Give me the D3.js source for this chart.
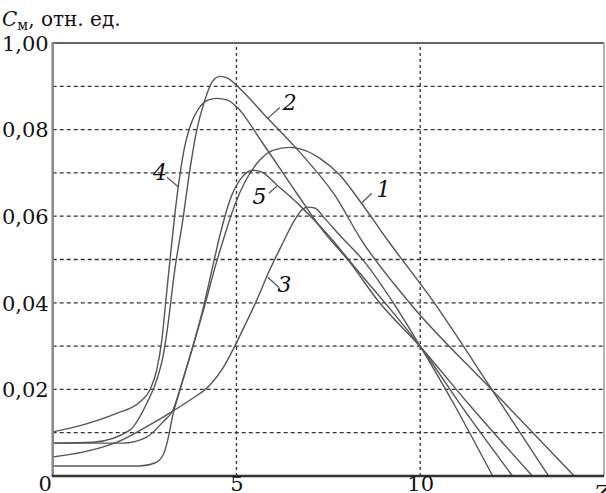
<!DOCTYPE html>
<html lang="ru">
  <head>
    <meta charset="utf-8">
    <title>Cм</title>
    <script src="https://d3js.org/d3.v7.min.js"></script>
    <style type="text/css">
        body { margin: 0; background: #fff; }
        svg text { font-family: "DejaVu Serif", "Liberation Serif", serif; fill: #111; }
        .grid line { stroke: #333; stroke-width: 1.3; stroke-dasharray: 4,3; }
        .curve { fill: none; stroke: #555; stroke-width: 1.4; }
        .leader { stroke: #555; stroke-width: 1.2; }
    </style>
  </head>
  <body>
    <div class="chart" id="chart"></div>
    <script>

        // values: x (time), y (Cm)
        var curve1 = [[0,0.0023],[2.37,0.0023],[2.78,0.0030],[3.0,0.0048],[3.13,0.0083],[3.27,0.0141],[3.46,0.0198],[3.81,0.0298],[4.14,0.0395],[4.41,0.0480],[4.68,0.0556],[4.95,0.0625],[5.23,0.0679],[5.63,0.0729],[5.99,0.0752],[6.45,0.0759],[6.86,0.0752],[7.26,0.0734],[7.81,0.0695],[8.40,0.0630],[9.11,0.0545],[10.33,0.0406],[11.96,0.0198],[13.49,0]];
        var curve2 = [[0,0.0076],[1.09,0.0078],[2.10,0.0106],[2.56,0.0168],[2.83,0.0222],[3.0,0.0275],[3.12,0.0340],[3.32,0.0475],[3.54,0.0591],[3.73,0.0706],[3.92,0.0799],[4.14,0.0868],[4.33,0.0909],[4.55,0.0923],[4.76,0.0919],[5.09,0.0895],[5.85,0.0826],[6.72,0.0748],[7.67,0.0649],[8.40,0.0545],[9.65,0.0406],[11.96,0.0198],[14.19,0]];
        var curve3 = [[0,0.0044],[0.82,0.0055],[1.75,0.0078],[2.64,0.0118],[3.27,0.0150],[3.73,0.0175],[4.28,0.0210],[4.63,0.0249],[4.90,0.0291],[5.23,0.0348],[5.55,0.0406],[5.90,0.0475],[6.26,0.0538],[6.58,0.0591],[6.77,0.0614],[6.94,0.0621],[7.13,0.0619],[7.40,0.0595],[7.81,0.0556],[8.49,0.0494],[9.22,0.0406],[10.01,0.0298],[10.93,0.0164],[11.97,0]];
        var curve4 = [[0,0.0102],[0.82,0.0118],[1.75,0.0145],[2.37,0.0171],[2.64,0.0198],[2.83,0.0245],[2.97,0.0314],[3.08,0.0406],[3.19,0.0498],[3.32,0.0602],[3.46,0.0695],[3.60,0.0764],[3.73,0.0805],[4.0,0.0852],[4.22,0.0868],[4.46,0.0872],[4.76,0.0868],[5.01,0.0852],[5.71,0.0769],[6.64,0.0653],[7.34,0.0568],[8.08,0.0494],[8.84,0.0406],[10.01,0.0298],[11.34,0.0164],[13.05,0]];
        var curve5 = [[0,0.0076],[1.91,0.0076],[2.56,0.0090],[3.0,0.0125],[3.27,0.0152],[3.54,0.0222],[3.81,0.0298],[4.08,0.0383],[4.33,0.0475],[4.55,0.0556],[4.82,0.0637],[5.17,0.0692],[5.44,0.0706],[5.69,0.0702],[6.10,0.0672],[6.72,0.0625],[7.54,0.0552],[8.22,0.0482],[8.98,0.0406],[10.01,0.0298],[11.20,0.0152],[12.51,0]];

        var series = [curve1, curve2, curve3, curve4, curve5];

        var xTicks = [0, 5, 10];
        var xTickLabels = ["0", "5", "10"];
        var yTicks = [0.02, 0.04, 0.06, 0.08, 0.10];
        var yTickLabels = ["0,02", "0,04", "0,06", "0,08", "1,00"];
        var yGrid = [0.01, 0.02, 0.03, 0.04, 0.05, 0.06, 0.07, 0.08, 0.09];
        var xGrid = [5, 10];

        // curve number, text spot, leader from -> to (data units)
        var labelNames = ["1", "2", "3", "4", "5"];
        var labelAt = [[9.0,0.0644],[6.45,0.0845],[6.31,0.0425],[2.92,0.0683],[5.63,0.0628]];
        var leaderFrom = [[8.40,0.0630],[5.85,0.0826],[5.85,0.0459],[3.43,0.0667],[5.88,0.0653]];
        var leaderTo = [[8.68,0.0653],[6.18,0.0851],[6.15,0.0436],[3.11,0.0690],[6.10,0.0669]];

        var width = 606, height = 493;
        var margin = {top: 43, right: 2, bottom: 17, left: 52.7};
        var serif = "DejaVu Serif";

        var svg = d3.select("#chart").append("svg")
            .attr("width", width)
            .attr("height", height)
            .attr("font-family", serif);

        var x = d3.scaleLinear().domain([0, 15]).range([margin.left, width - margin.right]);
        var y = d3.scaleLinear().domain([0, 0.1]).range([height - margin.bottom, margin.top]);

        // dashed grid
        var grid = svg.append("g").attr("class", "grid");
        grid.selectAll("line.h")
            .data(yGrid)
            .enter().append("line")
              .attr("class", "h")
              .attr("x1", x(0)).attr("x2", x(15))
              .attr("y1", function(d) { return y(d); })
              .attr("y2", function(d) { return y(d); });
        grid.selectAll("line.v")
            .data(xGrid)
            .enter().append("line")
              .attr("class", "v")
              .style("stroke-dasharray", "3,3")
              .attr("y1", y(0)).attr("y2", y(0.1))
              .attr("x1", function(d) { return x(d); })
              .attr("x2", function(d) { return x(d); });

        // curves
        var line = d3.line()
            .x(function(d) { return x(d[0]); })
            .y(function(d) { return y(d[1]); })
            .curve(d3.curveMonotoneX);

        svg.append("g").selectAll("path")
            .data(series)
            .enter().append("path")
              .attr("class", "curve")
              .attr("d", line);

        // frame
        svg.append("line").attr("x1", x(0)).attr("x2", x(15)).attr("y1", y(0.1)).attr("y2", y(0.1))
            .attr("stroke", "#666").attr("stroke-width", 2);
        svg.append("line").attr("x1", x(15)).attr("x2", x(15)).attr("y1", y(0.1)).attr("y2", y(0))
            .attr("stroke", "#999").attr("stroke-width", 1.5);
        svg.append("line").attr("x1", x(0)).attr("x2", x(0)).attr("y1", y(0.1) - 1).attr("y2", y(0))
            .attr("stroke", "#888").attr("stroke-width", 2.5);
        svg.append("line").attr("x1", x(0) - 1).attr("x2", x(15)).attr("y1", y(0)).attr("y2", y(0))
            .attr("stroke", "#333").attr("stroke-width", 2.5);

        // axes (labels only)
        var yAxis = svg.append("g")
            .attr("transform", "translate(" + (x(0) - 4) + ",0)")
            .call(d3.axisLeft(y).tickValues(yTicks)
                .tickFormat(function(d, i) { return yTickLabels[i]; })
                .tickSize(0).tickPadding(0));
        yAxis.attr("font-family", serif);
        yAxis.select(".domain").remove();
        yAxis.selectAll("text")
            .attr("font-size", 21)
            .attr("fill", "#111")
            .attr("dy", "0.35em");

        var xAxis = svg.append("g")
            .attr("transform", "translate(0," + y(0) + ")")
            .call(d3.axisBottom(x).tickValues(xTicks)
                .tickFormat(function(d, i) { return xTickLabels[i]; })
                .tickSize(0).tickPadding(0));
        xAxis.attr("font-family", serif);
        xAxis.select(".domain").remove();
        xAxis.selectAll("text")
            .attr("font-size", 21)
            .attr("fill", "#111")
            .attr("dy", "0.7em")
            .attr("x", function(d) { return d === 0 ? -8 : 0; });

        // cut-off letter at the right end of the x axis
        svg.append("text")
            .attr("x", width - 12).attr("y", height + 8)
            .attr("font-size", 23).attr("font-style", "italic")
            .text("Z");

        // y title
        var title = svg.append("text")
            .attr("x", 2).attr("y", 26)
            .attr("font-size", 20);
        title.append("tspan").attr("font-style", "italic").text("C");
        title.append("tspan").attr("font-size", 14).attr("dy", 4).text("м");
        title.append("tspan").attr("dy", -4).text(", отн. ед.");

        // curve numbers with leaders
        svg.append("g").selectAll("line")
            .data(labelNames)
            .enter().append("line")
              .attr("class", "leader")
              .attr("x1", function(d, i) { return x(leaderFrom[i][0]); })
              .attr("y1", function(d, i) { return y(leaderFrom[i][1]); })
              .attr("x2", function(d, i) { return x(leaderTo[i][0]); })
              .attr("y2", function(d, i) { return y(leaderTo[i][1]); });

        svg.append("g").selectAll("text")
            .data(labelNames)
            .enter().append("text")
              .attr("x", function(d, i) { return x(labelAt[i][0]); })
              .attr("y", function(d, i) { return y(labelAt[i][1]); })
              .attr("text-anchor", "middle")
              .attr("font-size", 22)
              .attr("font-style", "italic")
              .text(function(d) { return d; });

    </script>
  </body>
</html>
